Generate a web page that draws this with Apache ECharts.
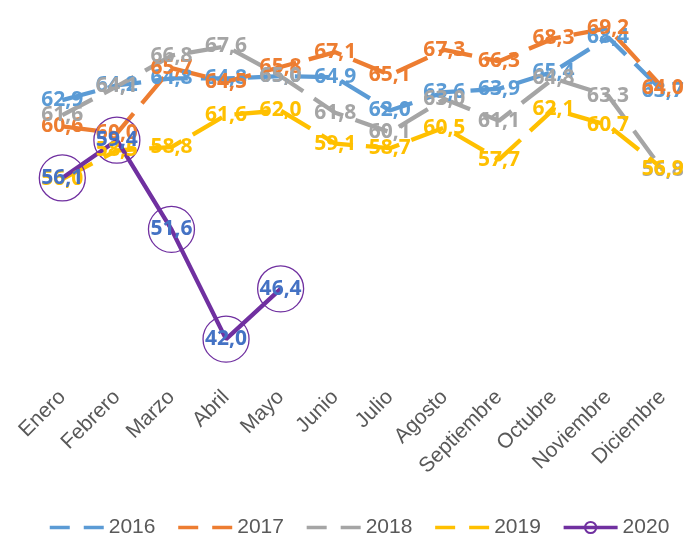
<!DOCTYPE html>
<html>
<head>
<meta charset="utf-8">
<script src="https://cdn.jsdelivr.net/npm/echarts@6/dist/echarts.min.js"></script>
<style>html,body{margin:0;padding:0;background:#fff}#c{width:699px;height:535px}</style>
</head>
<body>
<div id="c"></div>
<script>
var months = ['Enero','Febrero','Marzo','Abril','Mayo','Junio','Julio','Agosto','Septiembre','Octubre','Noviembre','Diciembre'];
var years = ['2016','2017','2018','2019','2020'];
var s2016 = [62.9, 64.2, 64.8, 64.8, 65.0, 64.9, 62.0, 63.6, 63.9, 65.4, 68.4, 63.7];
var s2017 = [60.6, 60.0, 65.7, 64.5, 65.8, 67.1, 65.1, 67.3, 66.3, 68.3, 69.2, 64.0];
var s2018 = [61.6, 64.1, 66.8, 67.6, 65.0, 61.8, 60.1, 63.0, 61.1, 64.8, 63.3, 56.8];
var s2019 = [56.0, 58.5, 58.8, 61.6, 62.0, 59.1, 58.7, 60.5, 57.7, 62.1, 60.7, 56.9];
var s2020 = [56.1, 59.4, 51.6, 42.0, 46.4];

var colors = ['#5B9BD5', '#ED7D31', '#A5A5A5', '#FFC000', '#7030A0'];
var fontFam = '"Open Sans", "Liberation Sans", sans-serif';
var fmt = function (p) { return p.value.toFixed(1).replace('.', ','); };

function dashed(name, data, color) {
  return {
    name: name, type: 'line', data: data,
    symbol: 'circle', symbolSize: 1, showSymbol: true,
    lineStyle: { color: color, width: 4.3, type: [34, 13], cap: 'butt' },
    itemStyle: { color: 'rgba(0,0,0,0)', borderWidth: 0 },
    label: { show: true, position: 'inside', formatter: fmt, color: color,
             fontFamily: fontFam, fontWeight: 'bold', fontSize: 21 },
    emphasis: { disabled: true },
    animation: false
  };
}

var chart = echarts.init(document.getElementById('c'));
chart.setOption({
  animation: false,
  grid: { left: 35, right: 9, top: 19, bottom: 173 },
  xAxis: {
    type: 'category', data: months, boundaryGap: true,
    axisLine: { show: false }, axisTick: { show: false },
    axisLabel: { rotate: 45, interval: 0, margin: 32, color: '#595959',
                 fontSize: 21, fontFamily: '"Liberation Sans", sans-serif' }
  },
  yAxis: { type: 'value', min: 40, max: 70, show: false, splitLine: { show: false } },
  legend: {
    top: 512, left: 43, itemWidth: 54, itemHeight: 14, itemGap: 21,
    textStyle: { color: '#595959', fontSize: 21, fontFamily: '"Liberation Sans", sans-serif' },
    data: [
      { name: '2016', lineStyle: { type: [20, 14], width: 3.5 } },
      { name: '2017', lineStyle: { type: [20, 14], width: 3.5 } },
      { name: '2018', lineStyle: { type: [20, 14], width: 3.5 } },
      { name: '2019', lineStyle: { type: [20, 14], width: 3.5 } },
      { name: '2020', lineStyle: { width: 3.5 } }
    ]
  },
  series: [
    dashed(years[0], s2016, colors[0]),
    dashed(years[1], s2017, colors[1]),
    dashed(years[2], s2018, colors[2]),
    dashed(years[3], s2019, colors[3]),
    {
      name: years[4], type: 'line', data: s2020,
      symbol: 'circle', symbolSize: 46,
      lineStyle: { color: colors[4], width: 4.3 },
      itemStyle: { color: 'rgba(255,255,255,0)', borderColor: colors[4], borderWidth: 1.3 },
      label: { show: true, position: 'inside', formatter: fmt, color: '#4472C4',
               fontFamily: fontFam, fontWeight: 'bold', fontSize: 21 },
      emphasis: { disabled: true },
      animation: false
    }
  ]
});
</script>
</body>
</html>
